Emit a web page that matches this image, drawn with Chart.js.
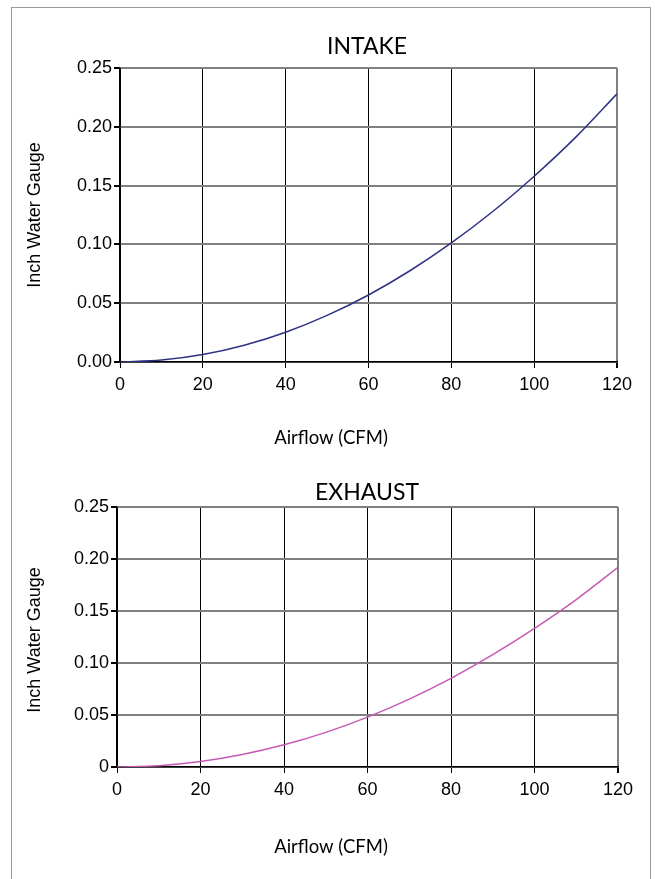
<!DOCTYPE html>
<html><head><meta charset="utf-8">
<script src="https://cdn.jsdelivr.net/npm/chart.js@4"></script>
<style>
body{margin:0;background:#fff;width:655px;height:879px;overflow:hidden;position:relative}
#frame{position:absolute;left:11px;top:7px;width:640px;height:900px;border:1px solid #9a9a9a;box-sizing:border-box}
canvas{position:absolute;left:0}
</style></head><body>
<div id="frame"></div>
<canvas id="c1" width="655" height="455" style="top:0"></canvas>
<canvas id="c2" width="655" height="424" style="top:455px"></canvas>
<script>
const airflow=[0,10,20,30,40,50,60,70,80,90,100,110,120];
const intakeWG=[0,0.0016,0.0063,0.0142,0.0253,0.0396,0.057,0.0776,0.1013,0.128,0.158,0.191,0.228];
const exhaustWG=[0,0.0013,0.0053,0.012,0.0213,0.0333,0.048,0.0653,0.0853,0.108,0.1333,0.161,0.192];
const xTicks=[0,20,40,60,80,100,120];
const yTicks=[0,0.05,0.1,0.15,0.2,0.25];
const intakeYLabels=['0.00','0.05','0.10','0.15','0.20','0.25'];
const exhaustYLabels=['0','0.05','0.10','0.15','0.20','0.25'];

const textPlugin={id:'texts',afterDraw(chart,args,opts){
  const c=chart.ctx;c.save();c.fillStyle='#000';c.textAlign='center';c.textBaseline='middle';
  for(const t of opts.items){c.save();c.font=t.font;c.translate(t.x,t.y);if(t.rot)c.rotate(t.rot);c.fillText(t.text,0,0);c.restore();}
  c.restore();}};

function make(id,H,vals,color,yLabels,area,texts){
  const pts=airflow.map((x,i)=>({x:x,y:vals[i]}));
  return new Chart(document.getElementById(id),{
    type:'line',
    data:{datasets:[{data:pts,borderColor:color,borderWidth:1.5,pointRadius:0,fill:false,cubicInterpolationMode:'monotone'}]},
    options:{responsive:false,animation:false,
      layout:{padding:{left:0,top:area.top,right:655-area.right,bottom:0}},
      plugins:{legend:{display:false},tooltip:{enabled:false},texts:{items:texts}},
      scales:{
        x:{type:'linear',min:0,max:120,
          afterBuildTicks:s=>{s.ticks=xTicks.map(v=>({value:v}));},
          afterFit:s=>{s.height=H-area.bottom;},
          grid:{color:c=>(c.tick&&c.tick.value===120)?'#808080':'#000',lineWidth:c=>(c.tick&&c.tick.value===120)?2:1,tickColor:'#000',tickLength:6},
          border:{color:'#000',width:1.5},
          ticks:{color:'#000',font:{family:'Liberation Sans',size:18},padding:6,maxRotation:0,callback:v=>String(v)}},
        y:{type:'linear',min:0,max:0.25,
          afterBuildTicks:s=>{s.ticks=yTicks.map(v=>({value:v}));},
          afterFit:s=>{s.width=area.left;},
          grid:{color:'#808080',lineWidth:2,tickColor:'#000',tickLength:6},
          border:{color:'#000',width:1.5},
          ticks:{color:'#000',font:{family:'Liberation Sans',size:18},padding:2,callback:(v,i)=>yLabels[i]}}
      }},
    plugins:[textPlugin]
  });
}
make('c1',455,intakeWG,'#2e3183',intakeYLabels,{left:120,right:617,top:68,bottom:362},[
  {text:'INTAKE',x:367,y:47,font:'23px Lato'},
  {text:'Airflow (CFM)',x:331,y:438,font:'18.5px Lato'},
  {text:'Inch Water Gauge',x:35,y:215,font:'18px "Liberation Sans"',rot:-Math.PI/2}]);
make('c2',424,exhaustWG,'#c45ab3',exhaustYLabels,{left:117,right:618,top:52,bottom:312},[
  {text:'EXHAUST',x:367,y:38,font:'23px Lato'},
  {text:'Airflow (CFM)',x:331,y:392,font:'18.5px Lato'},
  {text:'Inch Water Gauge',x:35,y:185,font:'18px "Liberation Sans"',rot:-Math.PI/2}]);
</script></body></html>
